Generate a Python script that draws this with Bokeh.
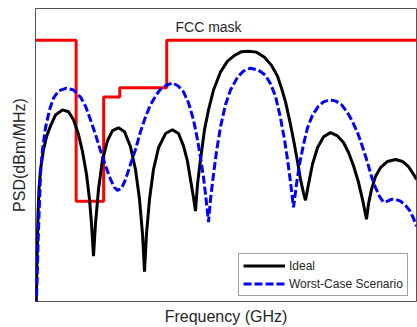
from bokeh.plotting import figure
from bokeh.models import Range1d, Label, Legend, LegendItem, FixedTicker
from bokeh.embed import file_html
from bokeh.resources import INLINE

# FCC indoor mask (GHz, dBm/MHz)
mask_f = [0.0, 0.96, 1.61, 1.99, 3.1, 9.0]
mask_psd = [-41.3, -75.3, -53.3, -51.3, -41.3, -41.3]

# Ideal PSD
ideal_f = [0.012, 0.035, 0.059, 0.083, 0.118, 0.189, 0.260, 0.354, 0.472, 0.638, 0.780, 0.898, 1.016, 1.110,
           1.205, 1.276, 1.323, 1.370,
           1.417, 1.488, 1.583, 1.701, 1.819, 1.961, 2.102, 2.244, 2.362, 2.457, 2.528, 2.575,
           2.622, 2.693, 2.787, 2.906, 3.071, 3.236, 3.378, 3.496, 3.591, 3.661, 3.732, 3.780,
           3.827, 3.898, 3.992, 4.087, 4.205, 4.370, 4.535, 4.701, 4.866, 5.031, 5.220, 5.409, 5.575,
           5.717, 5.811, 5.906, 6.000, 6.095, 6.189, 6.260, 6.331, 6.378,
           6.449, 6.543, 6.661, 6.803, 6.969, 7.134, 7.276, 7.394, 7.512, 7.630, 7.724, 7.819,
           7.866, 7.937, 8.031, 8.150, 8.315, 8.504, 8.669, 8.811, 8.929, 9.000]
ideal_psd = [-100.0, -87.5, -78.0, -72.8, -68.6, -64.4, -61.7, -59.4, -57.1, -56.0, -56.4, -58.1, -61.2, -64.8,
             -69.6, -74.9, -80.1, -86.9,
             -80.1, -72.8, -66.5, -62.5, -60.4, -59.8, -60.6, -63.8, -68.6, -74.9, -82.2, -90.2,
             -82.2, -74.9, -68.6, -64.0, -61.0, -60.2, -61.0, -63.6, -66.9, -70.7, -74.5, -77.4,
             -71.7, -66.5, -60.2, -56.0, -51.8, -48.0, -45.7, -44.5, -43.7, -43.6, -43.8, -44.9, -46.6,
             -48.9, -51.4, -54.3, -58.1, -62.3, -66.9, -70.7, -73.6, -75.1,
             -71.7, -67.5, -64.0, -61.7, -60.8, -61.5, -62.9, -65.0, -67.8, -71.3, -74.9, -79.1,
             -75.9, -72.8, -70.1, -68.2, -66.9, -66.5, -66.9, -68.0, -69.6, -70.7]

# Worst-case scenario PSD
worst_f = [0.012, 0.047, 0.071, 0.118, 0.165, 0.236, 0.331, 0.425, 0.543, 0.732, 0.898, 1.063, 1.181, 1.299,
           1.417, 1.535, 1.654, 1.772, 1.866, 1.937, 2.032, 2.126, 2.244, 2.362, 2.480, 2.598, 2.717,
           2.835, 2.953, 3.094, 3.236, 3.378, 3.496, 3.614, 3.732, 3.827, 3.898, 3.969, 4.016, 4.087,
           4.134, 4.205, 4.276, 4.370, 4.488, 4.606, 4.772, 4.913, 5.079, 5.268, 5.433, 5.551, 5.669,
           5.787, 5.882, 5.953, 6.024, 6.095,
           6.165, 6.236, 6.331, 6.425, 6.543, 6.685, 6.803, 6.945, 7.087, 7.228, 7.370, 7.488, 7.606,
           7.724, 7.843, 7.937, 8.031, 8.126, 8.220, 8.315, 8.409, 8.504, 8.622, 8.740, 8.835, 8.929, 9.000]
worst_psd = [-100.0, -88.5, -81.2, -69.6, -64.4, -59.8, -56.0, -53.5, -52.0, -51.4, -51.8, -53.3, -55.2, -58.1,
             -61.2, -64.6, -67.8, -70.7, -72.4, -73.0, -72.6, -70.7, -67.5, -64.4, -60.6, -57.5, -54.9,
             -53.1, -51.6, -50.8, -50.3, -51.0, -52.2, -54.5, -58.1, -62.3, -66.1, -70.3, -73.8, -79.7,
             -74.9, -69.6, -64.8, -59.6, -54.9, -51.8, -49.1, -47.8, -47.2, -47.6, -48.7, -50.5, -53.1,
             -57.7, -62.3, -66.5, -71.3, -76.6,
             -71.7, -67.5, -63.3, -59.8, -57.1, -55.2, -54.3, -53.9, -54.1, -54.9, -56.6, -58.5, -60.8,
             -63.8, -67.1, -70.1, -72.4, -74.3, -75.5, -75.3, -74.9, -74.9, -75.3, -76.2, -77.2, -78.9, -80.6]

FONT = "Liberation Sans"

p = figure(width=417, height=327, output_backend="svg", toolbar_location=None,
           x_range=Range1d(0, 9), y_range=Range1d(-96.49, -34.58),
           min_border_left=35, min_border_right=1, min_border_top=8, min_border_bottom=24)
p.background_fill_color = "white"
p.border_fill_color = "white"
p.outline_line_color = "#555555"
p.outline_line_width = 1
p.xgrid.visible = False
p.ygrid.visible = False

for ax in (p.xaxis[0], p.yaxis[0]):
    ax.ticker = FixedTicker(ticks=[])
    ax.major_tick_line_color = None
    ax.minor_tick_line_color = None
    ax.major_label_standoff = 0
    ax.axis_line_color = None
    ax.axis_label_text_font = FONT
    ax.axis_label_text_font_size = "16px"
    ax.axis_label_text_font_style = "normal"
    ax.axis_label_text_color = "#262626"
p.xaxis.axis_label = "Frequency (GHz)"
p.yaxis.axis_label = "PSD(dBm/MHz)"
p.xaxis.axis_label_standoff = 6
p.yaxis.axis_label_standoff = 8

p.step(mask_f, mask_psd, mode="after", line_color="#ff0000", line_width=3)
r_ideal = p.line(ideal_f, ideal_psd, line_color="black", line_width=3)
r_worst = p.line(worst_f, worst_psd, line_color="#0000ff", line_width=3, line_dash="8 3")

p.add_layout(Label(x=3.307, y=-38.4, text="FCC mask", text_font=FONT, text_font_size="14px",
                   text_color="#262626", text_baseline="alphabetic", text_align="left"))

legend = Legend(items=[LegendItem(label="Ideal", renderers=[r_ideal]),
                       LegendItem(label="Worst-Case Scenario", renderers=[r_worst])],
                location=(203, 5), margin=0, padding=4, spacing=3,
                label_height=15, glyph_height=15, glyph_width=42, label_standoff=4,
                label_text_font=FONT, label_text_font_size="12px", label_text_color="#262626",
                border_line_color="#444444", border_line_width=1, background_fill_alpha=1)
p.add_layout(legend)

open("out.html", "w").write(file_html(p, INLINE))
